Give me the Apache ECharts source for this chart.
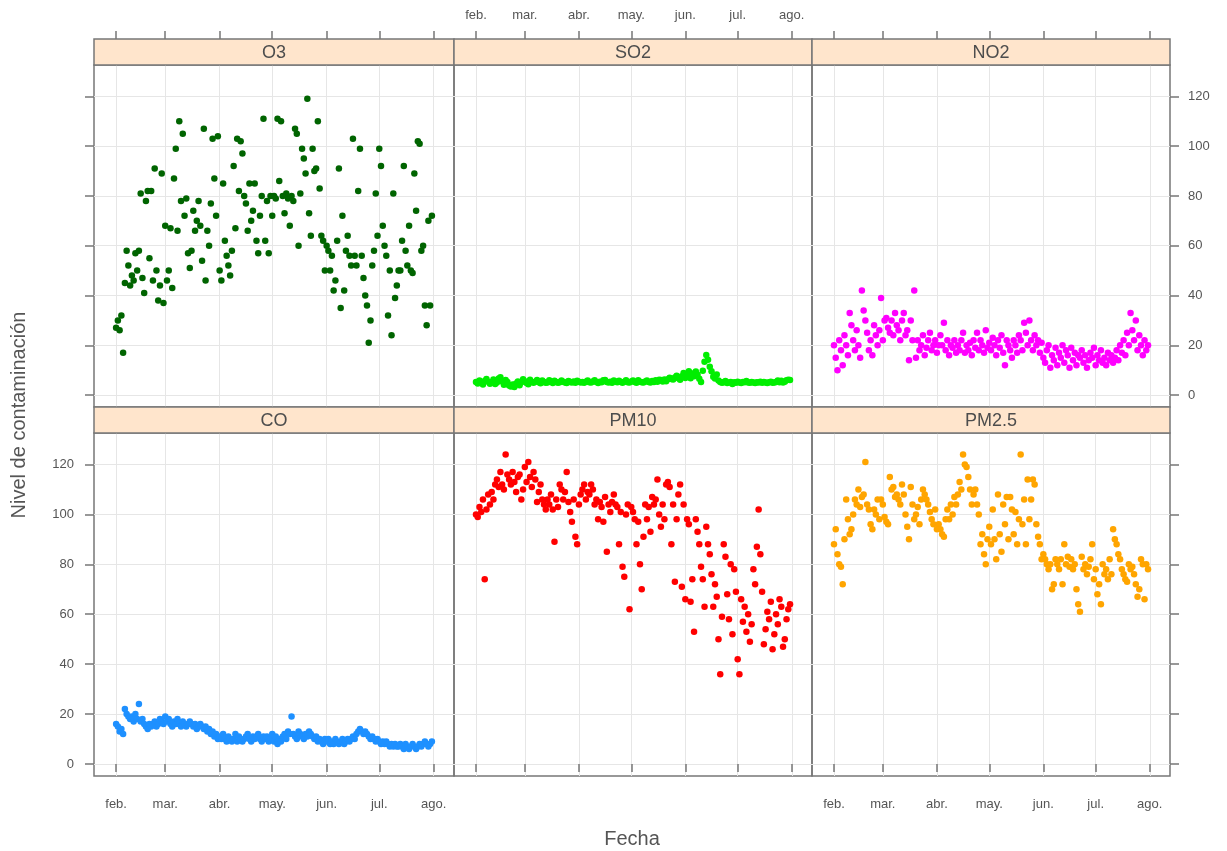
<!DOCTYPE html>
<html>
<head>
    <meta charset="UTF-8" />
    <title>Nivel de contaminación</title>
    <script src="https://cdn.jsdelivr.net/npm/echarts@6/dist/echarts.min.js"></script>
    <style>
        html, body { margin: 0; padding: 0; background: #fff; }
        #main { width: 1227px; height: 851px; }
    </style>
</head>
<body>
    <div id="main"></div>
    <script>
        // --- datos (un valor diario desde el 1 de febrero) ---
        var startDate = Date.UTC(2019, 1, 1);
        var monthLabels = ['feb.', 'mar.', 'abr.', 'may.', 'jun.', 'jul.', 'ago.'];
        var monthTicks = [Date.UTC(2019, 1, 1), Date.UTC(2019, 2, 1), Date.UTC(2019, 3, 1), Date.UTC(2019, 4, 1),
            Date.UTC(2019, 5, 1), Date.UTC(2019, 6, 1), Date.UTC(2019, 7, 1)];
        var yTicks = [0, 20, 40, 60, 80, 100, 120];
        var panelNames = ['O3', 'SO2', 'NO2', 'CO', 'PM10', 'PM2.5'];

        var o3 = [
            27, 30, 26, 32, 17, 45, 58, 52, 44, 48, 46, 57, 50, 58, 81, 47, 41, 78, 82, 55, 82,
            46, 91, 50, 38, 44, 89, 37, 68, 46, 50, 67, 43, 87, 99, 66, 110, 78, 105, 72, 79,
            57, 51, 58, 74, 66, 70, 78, 68, 54, 107, 46, 66, 60, 77, 103, 87, 72, 104, 50, 46,
            85, 62, 56, 52, 48, 58, 92, 67, 103, 82, 102, 97, 80, 77, 66, 85, 70, 74, 85, 62,
            57, 72, 80, 111, 62, 78, 57, 80, 72, 80, 79, 111, 86, 110, 80, 73, 81, 79, 68, 80,
            78, 107, 105, 60, 81, 99, 95, 89, 119, 73, 64, 99, 90, 91, 110, 83, 64, 62, 50, 60,
            58, 50, 56, 42, 46, 62, 91, 35, 72, 42, 58, 64, 56, 52, 103, 56, 52, 82, 99, 56,
            47, 40, 36, 21, 30, 52, 58, 81, 64, 99, 92, 68, 60, 56, 32, 50, 24, 81, 39, 44,
            50, 50, 62, 92, 58, 52, 68, 50, 49, 89, 74, 102, 101, 58, 60, 36, 28, 70, 36, 72
        ];
        var so2 = [
            5.2, 4.6, 5.8, 5.0, 4.2, 5.6, 6.4, 5.3, 4.5, 5.1, 6.2, 4.4, 5.0, 6.6, 7.2, 5.4, 4.1, 6.0, 5.2, 3.8, 3.4,
            4.2, 3.2, 4.6, 5.4, 3.9, 5.1, 6.3, 5.5, 4.8, 4.3, 6.1, 5.2, 4.9, 5.3, 6.0, 5.1, 4.7, 5.8, 5.2, 4.9,
            5.0, 5.9, 5.3, 4.8, 5.7, 5.2, 4.9, 5.1, 5.8, 5.3, 5.0, 4.8, 5.6, 5.2, 5.0, 5.4, 4.9, 5.7, 5.3, 5.0,
            5.2, 4.9, 5.3, 5.8, 5.1, 5.0, 5.4, 5.9, 5.2, 4.8, 5.3, 5.1, 5.9, 6.0, 5.2, 5.0, 5.3, 4.9, 5.8, 5.4,
            5.1, 5.7, 5.2, 4.9, 5.3, 5.9, 5.1, 5.0, 5.4, 5.8, 5.2, 4.9, 5.9, 5.3, 5.1, 5.0, 5.4, 5.8, 5.2, 5.0,
            5.6, 5.2, 5.9, 5.3, 6.1, 6.0, 5.4, 6.2, 5.5, 6.3, 7.0, 6.4, 6.2, 7.1, 7.8, 6.8, 6.1, 7.6, 8.9, 6.9,
            7.8, 9.6, 6.8, 8.7, 7.6, 9.5, 8.2, 6.5, 5.2, 9.8, 13.4, 16.1, 14.2, 11.4, 9.6, 7.4, 6.6, 8.3, 5.8, 5.2,
            4.9, 5.1, 5.6, 4.8, 5.0, 5.2, 4.4, 5.1, 4.9, 5.3, 5.0, 4.8, 5.2, 5.1, 5.6, 5.0, 4.9, 5.2, 5.0, 4.8,
            5.1, 5.0, 5.3, 4.9, 5.2, 5.0, 4.8, 5.1, 5.3, 4.9, 5.0, 5.2, 5.8, 5.1, 5.7, 5.0, 5.3, 5.9, 6.1, 6.0
        ];
        var no2 = [
            20, 15, 10, 22, 18, 12, 24, 20, 16, 33, 28, 22, 18, 26, 20, 15, 42, 34, 30, 25, 18,
            22, 16, 28, 24, 20, 26, 39, 22, 30, 31, 27, 25, 30, 24, 33, 28, 26, 22, 30, 33,
            24, 26, 14, 30, 22, 42, 15, 22, 18, 20, 24, 16, 19, 22, 25, 18, 20, 22, 17, 20,
            24, 20, 29, 18, 22, 16, 20, 19, 22, 17, 20, 18, 22, 25, 17, 20, 18, 21, 16, 22,
            19, 25, 18, 22, 20, 17, 26, 19, 21, 18, 23, 20, 16, 22, 19, 24, 17, 12, 22, 20,
            18, 15, 22, 20, 17, 24, 22, 18, 29, 25, 20, 30, 22, 18, 24, 20, 22, 17, 21, 15,
            13, 18, 20, 11, 16, 14, 19, 12, 17, 15, 20, 13, 18, 16, 11, 19, 14, 17, 12, 16,
            15, 18, 13, 16, 11, 14, 17, 15, 19, 12, 16, 14, 18, 13, 15, 12, 17, 14, 16, 13,
            15, 18, 14, 20, 17, 22, 16, 25, 20, 33, 26, 22, 30, 18, 24, 20, 16, 22, 18, 20
        ];
        var co = [
            16, 15, 13, 14, 12, 22, 20, 19, 18, 19, 17, 20, 18, 24, 17, 18, 16, 15, 14, 16, 15,
            16, 17, 15, 16, 18, 17, 16, 19, 17, 18, 16, 15, 17, 16, 18, 16, 15, 17, 16, 15,
            16, 17, 16, 15, 16, 14, 15, 16, 15, 14, 15, 13, 14, 12, 13, 11, 12, 10, 11, 10,
            12, 10, 9, 11, 10, 9, 10, 12, 9, 11, 10, 9, 10, 11, 12, 10, 9, 11, 10, 11,
            12, 10, 9, 11, 10, 11, 9, 10, 12, 9, 11, 8, 10, 9, 11, 12, 10, 13, 12, 19,
            12, 11, 10, 13, 12, 11, 10, 12, 11, 13, 12, 11, 10, 11, 9, 10, 9, 8, 10, 9,
            10, 8, 9, 8, 10, 9, 8, 9, 10, 8, 9, 10, 9, 10, 11, 10, 12, 13, 14, 13,
            12, 13, 12, 11, 10, 11, 10, 9, 10, 9, 8, 9, 8, 9, 8, 7, 8, 7, 8, 7,
            7, 8, 7, 6, 8, 7, 6, 7, 8, 7, 6, 7, 8, 7, 8, 9, 8, 7, 8, 9
        ];
        var pm10 = [
            100, 99, 103, 101, 106, 74, 102, 108, 104, 109, 106, 112, 114, 111, 117, 112, 110, 124, 116, 114, 112,
            117, 113, 109, 115, 116, 106, 110, 119, 113, 121, 115, 111, 117, 114, 105, 109, 112, 106, 104, 102,
            106, 104, 108, 102, 89, 106, 103, 112, 110, 106, 109, 117, 105, 101, 97, 106, 91, 88, 104, 108,
            110, 112, 106, 109, 108, 112, 110, 104, 106, 98, 105, 103, 97, 107, 85, 104, 101, 105, 108, 104,
            103, 88, 101, 79, 75, 100, 104, 62, 103, 101, 98, 88, 97, 80, 70, 91, 104, 98, 103, 93,
            107, 104, 106, 114, 100, 95, 104, 98, 112, 113, 111, 88, 104, 73, 98, 108, 112, 71, 104, 66,
            98, 96, 65, 74, 53, 98, 93, 88, 79, 74, 63, 95, 88, 84, 76, 63, 72, 67, 50, 36,
            59, 88, 83, 68, 58, 80, 52, 78, 69, 42, 36, 66, 57, 63, 53, 60, 49, 56, 78, 72,
            87, 102, 84, 69, 48, 54, 61, 58, 65, 46, 52, 60, 56, 66, 63, 47, 50, 58, 62, 64
        ];
        var pm25 = [
            88, 94, 84, 80, 79, 72, 90, 106, 98, 92, 94, 100, 106, 104, 110, 103, 107, 108, 121, 104, 102,
            96, 94, 102, 100, 106, 98, 106, 104, 99, 97, 96, 115, 110, 111, 107, 108, 106, 104, 112, 108,
            100, 95, 90, 111, 104, 98, 100, 103, 96, 106, 110, 108, 106, 104, 101, 98, 96, 102, 94, 96,
            94, 92, 91, 98, 102, 98, 104, 100, 107, 104, 108, 113, 110, 124, 120, 119, 115, 110, 104, 108,
            110, 104, 100, 88, 92, 84, 80, 90, 95, 88, 102, 90, 82, 108, 92, 85, 104, 96, 107, 90,
            107, 102, 92, 101, 88, 98, 124, 96, 106, 88, 114, 98, 106, 114, 112, 96, 91, 88, 82, 84,
            82, 80, 78, 80, 70, 72, 82, 80, 78, 82, 72, 88, 80, 83, 79, 82, 78, 80, 70, 64,
            61, 83, 78, 80, 76, 79, 82, 88, 74, 78, 68, 72, 64, 80, 76, 78, 74, 82, 76, 94,
            90, 88, 84, 82, 78, 76, 74, 73, 80, 78, 79, 76, 72, 67, 70, 82, 80, 66, 80, 78
        ];

        var panelValues = [o3, so2, no2, co, pm10, pm25];
        var panelColors = ['#006400', '#00ee00', '#ff00ff', '#1e90ff', '#ff0000', '#ffa500'];

        // --- disposición ---
        var DAY = 86400000;
        var xMin = startDate - 12.6 * DAY;
        var xMax = startDate + (180 + 12.6) * DAY;
        var yMin = -4.8, yMax = 132.6;
        var colLeft = [94, 454, 812];
        var colWidth = [360, 358, 358];
        var rowTop = [65, 433];
        var rowHeight = [342, 343];
        var stripH = 26;
        var frameColor = '#777';
        var gridColor = '#e6e6e6';
        var textColor = '#555';
        var font = 'Liberation Sans, Arial, sans-serif';

        function monthFmt(v) {
            var k = monthTicks.indexOf(v);
            return k >= 0 ? monthLabels[k] : '';
        }

        var grids = [], xAxes = [], yAxes = [], series = [], graphics = [];

        for (var i = 0; i < 6; i++) {
            var row = Math.floor(i / 3), col = i % 3;
            grids.push({
                left: colLeft[col], top: rowTop[row], width: colWidth[col], height: rowHeight[row],
                show: true, borderColor: frameColor, borderWidth: 1.5,
                containLabel: false, outerBoundsMode: 'none'
            });

            var xIdx = xAxes.length;
            xAxes.push({
                gridIndex: i, type: 'value', position: 'bottom', min: xMin, max: xMax,
                axisLine: { show: false },
                axisTick: { show: row === 1, customValues: monthTicks, length: 8, lineStyle: { color: frameColor, width: 1.5 } },
                axisLabel: {
                    show: row === 1 && col !== 1, customValues: monthTicks, formatter: monthFmt,
                    margin: 22, color: textColor, fontSize: 13, fontFamily: font
                },
                splitLine: { show: true, lineStyle: { color: gridColor, width: 1 } }
            });
            if (row === 0) {
                xAxes.push({
                    gridIndex: i, type: 'value', position: 'top', offset: stripH, min: xMin, max: xMax,
                    axisLine: { show: false },
                    axisTick: { show: true, customValues: monthTicks, length: 8, lineStyle: { color: frameColor, width: 1.5 } },
                    axisLabel: {
                        show: col === 1, customValues: monthTicks, formatter: monthFmt,
                        margin: 17, color: textColor, fontSize: 13, fontFamily: font
                    },
                    splitLine: { show: false }
                });
            }

            yAxes.push({
                gridIndex: i, type: 'value', position: col === 2 ? 'right' : 'left', min: yMin, max: yMax,
                axisLine: { show: false },
                axisTick: { show: col !== 1, customValues: yTicks, length: 9, lineStyle: { color: frameColor, width: 1.5 } },
                axisLabel: {
                    show: (row === 0 && col === 2) || (row === 1 && col === 0), customValues: yTicks,
                    margin: col === 2 ? 18 : 20, color: textColor, fontSize: 13, fontFamily: font
                },
                splitLine: { show: true, lineStyle: { color: gridColor, width: 1 } }
            });

            var vals = panelValues[i];
            series.push({
                name: panelNames[i], type: 'scatter', xAxisIndex: xIdx, yAxisIndex: i,
                symbolSize: 6.5, itemStyle: { color: panelColors[i], opacity: 1 },
                data: vals.map(function (v, k) { return [startDate + k * DAY, v]; })
            });

            // tira con el nombre del panel
            var sTop = rowTop[row] - stripH;
            graphics.push({
                type: 'rect', z: 100,
                shape: { x: colLeft[col], y: sTop, width: colWidth[col], height: stripH },
                style: { fill: '#ffe5cc', stroke: frameColor, lineWidth: 1.5 }
            });
            graphics.push({
                type: 'text', z: 101,
                x: colLeft[col] + colWidth[col] / 2, y: sTop + stripH / 2 + 1,
                style: { text: panelNames[i], fill: '#4d4d4d', font: '18px ' + font, align: 'center', verticalAlign: 'middle' }
            });
        }

        graphics.push({
            type: 'text', x: 19, y: 415, rotation: Math.PI / 2,
            style: { text: 'Nivel de contaminación', fill: textColor, font: '20px ' + font, align: 'center', verticalAlign: 'middle' }
        });
        graphics.push({
            type: 'text', x: 632, y: 839,
            style: { text: 'Fecha', fill: textColor, font: '20px ' + font, align: 'center', verticalAlign: 'middle' }
        });

        var myChart = echarts.init(document.getElementById('main'));
        myChart.setOption({
            animation: false,
            backgroundColor: '#fff',
            grid: grids,
            xAxis: xAxes,
            yAxis: yAxes,
            series: series,
            graphic: graphics
        });
    </script>
</body>
</html>
